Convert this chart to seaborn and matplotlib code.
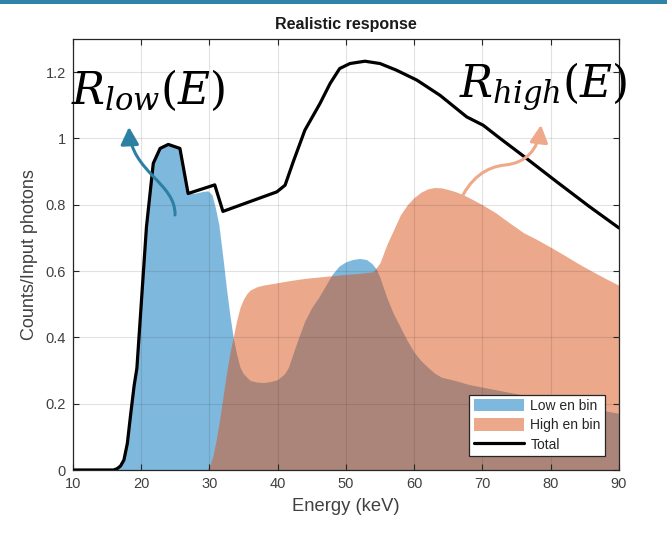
import matplotlib
matplotlib.use("Agg")
import matplotlib.pyplot as plt
import pandas as pd
import seaborn as sns
from matplotlib.patches import Patch, FancyArrowPatch, Rectangle, ArrowStyle
from matplotlib.lines import Line2D
from matplotlib.path import Path

# Low energy bin response
low_energy = [10, 16, 16.5, 17, 17.5, 18, 18.5, 19, 19.4, 20, 20.8, 21.8, 22.8, 24, 25,
              25.7, 26.9, 28, 29, 29.8, 30.4, 30.9, 31.4, 32, 32.5, 33, 33.5, 34, 34.5,
              35, 36, 37, 38, 39, 40, 41, 41.6, 42, 43, 44, 45, 46, 47, 48, 49, 50, 51,
              52, 53, 53.8, 54.5, 55, 56, 57, 58, 59, 60, 61, 62, 63, 64, 65, 66, 68,
              70, 75, 80, 85, 90]
low_counts = [0, 0, 0.004, 0.012, 0.03, 0.08, 0.17, 0.255, 0.307, 0.49, 0.733, 0.925,
              0.97, 0.982, 0.975, 0.97, 0.834, 0.835, 0.84, 0.842, 0.83, 0.79, 0.74,
              0.64, 0.55, 0.47, 0.40, 0.35, 0.31, 0.29, 0.27, 0.265, 0.264, 0.267,
              0.273, 0.29, 0.31, 0.335, 0.395, 0.45, 0.49, 0.52, 0.555, 0.59, 0.615,
              0.628, 0.635, 0.638, 0.635, 0.623, 0.605, 0.58, 0.52, 0.47, 0.43, 0.39,
              0.355, 0.33, 0.31, 0.292, 0.28, 0.275, 0.27, 0.258, 0.25, 0.23, 0.21,
              0.19, 0.171]

# High energy bin response
high_energy = [10, 29.6, 30, 30.5, 31, 31.5, 32, 32.5, 33, 33.5, 34, 34.5, 35, 35.5, 36,
               37, 38, 40, 42, 44, 46, 48, 50, 52, 54, 55, 56, 57, 58, 59, 60, 61, 62,
               63, 64, 65, 66, 67, 68, 70, 72, 74, 76, 78, 80, 82, 84, 86, 88, 90]
high_counts = [0, 0, 0.01, 0.04, 0.09, 0.15, 0.22, 0.29, 0.35, 0.40, 0.45, 0.49, 0.515,
               0.532, 0.543, 0.553, 0.558, 0.565, 0.572, 0.578, 0.582, 0.586, 0.59,
               0.593, 0.598, 0.625, 0.68, 0.725, 0.77, 0.80, 0.822, 0.838, 0.848, 0.852,
               0.851, 0.846, 0.84, 0.832, 0.822, 0.80, 0.775, 0.745, 0.716, 0.695,
               0.672, 0.648, 0.623, 0.60, 0.578, 0.557]

# Total detector response
total_energy = [10, 16, 16.5, 17, 17.5, 18, 18.5, 19, 19.4, 20.8, 21.8, 22.8, 24, 25.7,
                26.9, 30.8, 32, 39.9, 41.1, 42.3, 44, 46.2, 47.7, 49.1, 50.6, 52.8, 55,
                57.4, 60.4, 63.8, 67.7, 70.1, 72.6, 76, 80.9, 85.7, 90]
total_counts = [0, 0, 0.004, 0.012, 0.03, 0.08, 0.17, 0.255, 0.307, 0.733, 0.925, 0.97,
                0.982, 0.97, 0.834, 0.86, 0.78, 0.839, 0.859, 0.93, 1.025, 1.105, 1.166,
                1.211, 1.226, 1.233, 1.226, 1.206, 1.176, 1.13, 1.065, 1.04, 1.0, 0.947,
                0.869, 0.794, 0.73]

x_ticks = [10, 20, 30, 40, 50, 60, 70, 80, 90]
y_ticks = [0, 0.2, 0.4, 0.6, 0.8, 1.0, 1.2]
y_tick_labels = ["0", "0.2", "0.4", "0.6", "0.8", "1", "1.2"]
series_labels = ["Low en bin", "High en bin", "Total"]

LOW_COLOR = "#0072BD"
HIGH_COLOR = "#D95319"
AX_COLOR = "#262626"

sns.set_theme(style="ticks")
plt.rcParams["font.family"] = ["Liberation Sans", "DejaVu Sans"]
plt.rcParams["mathtext.fontset"] = "dejavuserif"

W, H = 667, 534
fig = plt.figure(figsize=(W / 100, H / 100), dpi=100)
fig.patch.set_facecolor("white")

# slide header strip
fig.patches.append(Rectangle((0, 1 - 4 / H), 1, 4 / H, transform=fig.transFigure,
                             facecolor="#2f84a8", edgecolor="none"))

left, right, top, bottom = 72.7, 619, 39, 470
ax = fig.add_axes([left / W, (H - bottom) / H, (right - left) / W, (bottom - top) / H])

ax.fill_between(low_energy, low_counts, 0, facecolor=LOW_COLOR, alpha=0.5,
                linewidth=0, zorder=1)
ax.fill_between(high_energy, high_counts, 0, facecolor=HIGH_COLOR, alpha=0.5,
                linewidth=0, zorder=1.1)

total_df = pd.DataFrame({"energy": total_energy, "counts": total_counts})
sns.lineplot(data=total_df, x="energy", y="counts", color="black", linewidth=2.3,
             sort=False, estimator=None, ax=ax, zorder=3)

ax.set_xlim(10, 90)
ax.set_ylim(0, 1.3)
ax.set_xticks(x_ticks)
ax.set_yticks(y_ticks)
ax.set_yticklabels(y_tick_labels)
ax.grid(True, color=AX_COLOR, alpha=0.13, linewidth=0.8)
ax.set_axisbelow(False)
for side in ["left", "right", "top", "bottom"]:
    ax.spines[side].set_visible(True)
    ax.spines[side].set_color(AX_COLOR)
    ax.spines[side].set_linewidth(0.9)
ax.tick_params(direction="in", top=True, right=True, length=4.5, width=0.8,
               colors=AX_COLOR, labelsize=10.5, pad=5)
for lab in ax.get_xticklabels() + ax.get_yticklabels():
    lab.set_color("#404040")

ax.set_title("Realistic response", fontsize=11.5, fontweight="bold", color="#1a1a1a",
             pad=7)
ax.set_xlabel("Energy (keV)", fontsize=13.2, color="#404040", labelpad=5)
ax.set_ylabel("Counts/Input photons", fontsize=13, color="#404040", labelpad=5)

handles = [Patch(facecolor=LOW_COLOR, alpha=0.5, edgecolor="none"),
           Patch(facecolor=HIGH_COLOR, alpha=0.5, edgecolor="none"),
           Line2D([], [], color="black", linewidth=2.3)]
leg = ax.legend(handles, series_labels, loc="lower right",
                bbox_to_anchor=((605 - left) / (right - left), (bottom - 456) / (bottom - top)),
                borderaxespad=0, frameon=True, fancybox=False, framealpha=1,
                edgecolor=AX_COLOR, fontsize=10, handlelength=3.6, handleheight=1.0,
                labelspacing=0.4, borderpad=0.3, handletextpad=0.5)
leg.get_frame().set_linewidth(0.9)
for t in leg.get_texts():
    t.set_color("#262626")


def fig_xy(px, py):
    return (px / W, 1 - py / H)


fig.text(*fig_xy(71, 104), r"$R_{low}(E)$", fontsize=31.5, color="black",
         ha="left", va="baseline")
fig.text(*fig_xy(459, 97), r"$R_{high}(E)$", fontsize=31.5, color="black",
         ha="left", va="baseline")

# curved pointers from the response areas to their labels
blue_path = Path([fig_xy(175, 215), fig_xy(176, 183), fig_xy(131, 172), fig_xy(129, 127)],
                 [Path.MOVETO, Path.CURVE4, Path.CURVE4, Path.CURVE4])
orange_path = Path([fig_xy(459, 203), fig_xy(470, 178), fig_xy(486, 167), fig_xy(505, 165),
                    fig_xy(526, 163), fig_xy(538, 150), fig_xy(541, 125)],
                   [Path.MOVETO, Path.CURVE4, Path.CURVE4, Path.CURVE4,
                    Path.CURVE4, Path.CURVE4, Path.CURVE4])
for pth, col in [(blue_path, "#2c80a3"), (orange_path, "#eea98a")]:
    arr = FancyArrowPatch(path=pth, transform=fig.transFigure,
                          arrowstyle=ArrowStyle("-|>", head_length=10.5, head_width=5.5),
                          color=col, linewidth=2.2, mutation_scale=1,
                          shrinkA=0, shrinkB=0)
    fig.patches.append(arr)

fig.savefig("out.png", dpi=100)
